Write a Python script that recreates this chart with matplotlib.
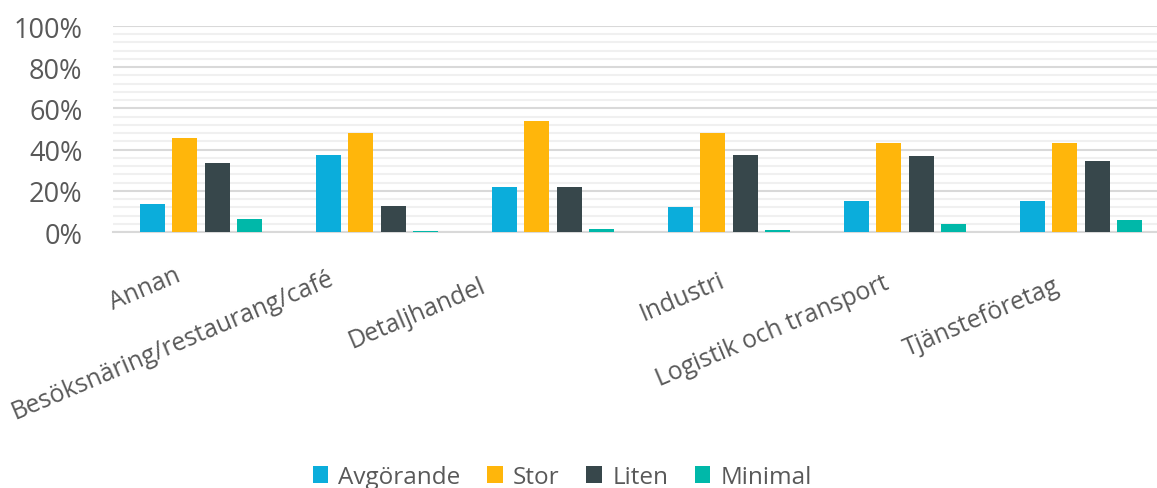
import numpy as np
import matplotlib
matplotlib.use("Agg")
from matplotlib import pyplot as plt
from matplotlib.ticker import MultipleLocator, PercentFormatter

categories = ["Annan", "Besöksnäring/restaurang/café", "Detaljhandel",
              "Industri", "Logistik och transport", "Tjänsteföretag"]
series = ["Avgörande", "Stor", "Liten", "Minimal"]
avgorande = [13.5, 37.4, 21.7, 12.1, 15.0, 15.0]
stor = [45.5, 48.2, 53.9, 47.9, 43.2, 43.4]
liten = [33.5, 12.6, 21.8, 37.5, 37.0, 34.6]
minimal = [6.3, 0.7, 1.5, 1.1, 3.7, 5.8]

colors = ["#0BADDB", "#FFB60B", "#37474B", "#00B8A9"]
txt = "#595959"
plt.rcParams['font.family'] = ['Open Sans', 'DejaVu Sans']

fig = plt.figure(figsize=(11.57, 4.89), dpi=100)
# plot area runs off the right edge like the original
ax = fig.add_axes([113 / 1157, 1 - 233 / 489, 1056 / 1157, 206 / 489])

x = np.arange(len(categories))
step, width = 0.182, 0.142
for k, vals in enumerate([avgorande, stor, liten, minimal]):
    ax.bar(x + (k - 1.5) * step, np.array(vals) / 100, width, color=colors[k],
           label=series[k], zorder=3, linewidth=0)

ax.set_xlim(-0.5, len(categories) - 0.5)
ax.set_ylim(0, 1)
ax.yaxis.set_major_locator(MultipleLocator(0.2))
ax.yaxis.set_minor_locator(MultipleLocator(0.04))
ax.yaxis.set_major_formatter(PercentFormatter(1.0, decimals=0))
ax.grid(True, which="minor", axis="y", color="#F0F0F0", linewidth=1.5, zorder=0)
ax.grid(True, which="major", axis="y", color="#D9D9D9", linewidth=1.5, zorder=1)
for s in ["top", "right", "left"]:
    ax.spines[s].set_visible(False)
ax.spines["bottom"].set_color("#D9D9D9")
ax.spines["bottom"].set_linewidth(1.5)
ax.spines["bottom"].set_zorder(2)
ax.tick_params(axis="y", which="both", length=0, labelsize=19.5, labelcolor=txt, pad=22)
ax.tick_params(axis="x", length=0)
ax.set_xticks(x)
ax.set_xticklabels([])

# Excel puts each rotated label a bit differently
label_dx = [-27, -49, -73, -10, -22, -28]
label_dy = [-30, -33, -41, -36, -38, -41]
for i, cat in enumerate(categories):
    ax.annotate(cat, xy=(i, 0), xycoords=("data", "axes fraction"),
                xytext=(label_dx[i], label_dy[i]), textcoords="offset pixels",
                rotation=23, rotation_mode="anchor", ha="right", va="top",
                fontsize=17.8, color=txt, annotation_clip=False)

fig.legend(loc="center", bbox_to_anchor=(0.486, 0.022), ncol=4, frameon=False,
           fontsize=17.5, labelcolor=txt, handlelength=0.64, handleheight=0.72,
           handletextpad=0.42, columnspacing=1.1)

fig.savefig("out.png", dpi=100)
